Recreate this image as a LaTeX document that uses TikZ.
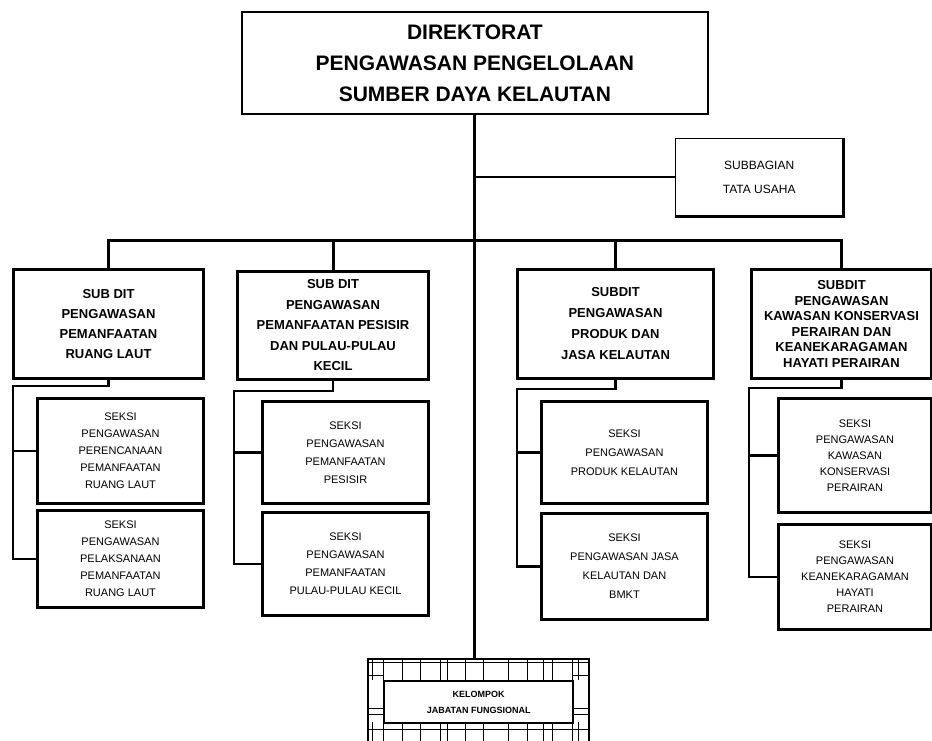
\documentclass[tikz,border=0pt]{standalone}
\usepackage{fontspec}
\setmainfont{Liberation Sans}
\begin{document}
\begin{tikzpicture}[x=1pt,y=-1pt,
  box/.style={draw, anchor=north west, align=center, inner sep=0pt},
  topbox/.style={box, line width=1.8pt, font=\fontsize{21}{31}\selectfont\bfseries},
  tubox/.style={box, line width=1.4pt, font=\fontsize{12}{24}\selectfont},
  sdbox/.style={box, line width=3pt, font=\fontsize{13}{#1}\selectfont\bfseries},
  skbox/.style={box, line width=3pt, font=\fontsize{11}{#1}\selectfont},
  conn/.style={line width=3pt},
  thinconn/.style={line width=2.2pt},
  gridline/.style={line width=0.9pt}
]
\useasboundingbox[fill=white] (0,0) rectangle (932,740);

% top
\node[topbox, minimum width=466pt, minimum height=102pt] (dir) at (241,11)
  {DIREKTORAT\\PENGAWASAN PENGELOLAAN\\SUMBER DAYA KELAUTAN};
\node[tubox, minimum width=167pt, minimum height=77pt] (tu) at (675,138)
  {SUBBAGIAN\\TATA USAHA};
\draw[line width=3pt] (tu.south west) -- (tu.south east) -- (tu.north east);

% subdits
\node[sdbox=20, minimum width=190pt, minimum height=109pt] (sd1) at (12,268)
  {SUB DIT\\PENGAWASAN\\PEMANFAATAN\\RUANG LAUT};
\node[sdbox=20.5, minimum width=191pt, minimum height=108pt] (sd2) at (236,270)
  {SUB DIT\\PENGAWASAN\\PEMANFAATAN PESISIR\\DAN PULAU-PULAU\\KECIL};
\node[sdbox=21, minimum width=196pt, minimum height=109pt] (sd3) at (516,268)
  {SUBDIT\\PENGAWASAN\\PRODUK DAN\\JASA KELAUTAN};
\node[sdbox=15.5, minimum width=180pt, minimum height=109pt] (sd4) at (750,268)
  {SUBDIT\\PENGAWASAN\\KAWASAN KONSERVASI\\PERAIRAN DAN\\KEANEKARAGAMAN\\HAYATI PERAIRAN};

% seksi
\node[skbox=17, minimum width=166pt, minimum height=105pt] (s11) at (36,397)
  {SEKSI\\PENGAWASAN\\PERENCANAAN\\PEMANFAATAN\\RUANG LAUT};
\node[skbox=17, minimum width=166pt, minimum height=97pt] (s12) at (36,509)
  {SEKSI\\PENGAWASAN\\PELAKSANAAN\\PEMANFAATAN\\RUANG LAUT};
\node[skbox=18, minimum width=166pt, minimum height=102pt] (s21) at (261,400)
  {SEKSI\\PENGAWASAN\\PEMANFAATAN\\PESISIR};
\node[skbox=18, minimum width=166pt, minimum height=103pt] (s22) at (261,511)
  {SEKSI\\PENGAWASAN\\PEMANFAATAN\\PULAU-PULAU KECIL};
\node[skbox=19, minimum width=166pt, minimum height=102pt] (s31) at (540,400)
  {SEKSI\\PENGAWASAN\\PRODUK KELAUTAN};
\node[skbox=19, minimum width=166pt, minimum height=106pt] (s32) at (540,512)
  {SEKSI\\PENGAWASAN JASA\\KELAUTAN DAN\\BMKT};
\node[skbox=16, minimum width=153pt, minimum height=114pt] (s41) at (777,397)
  {SEKSI\\PENGAWASAN\\KAWASAN\\KONSERVASI\\PERAIRAN};
\node[skbox=16, minimum width=153pt, minimum height=105pt] (s42) at (777,523)
  {SEKSI\\PENGAWASAN\\KEANEKARAGAMAN\\HAYATI\\PERAIRAN};

% kelompok jabatan fungsional
\node[draw, line width=2.4pt, anchor=north west, minimum width=221pt, minimum height=92pt, inner sep=0pt] (kel) at (367,658) {};
\foreach \x in {372,383,402,420,440,447,465,483,508,527,543,552,572,578}{
  \draw[gridline] (\x,658) -- (\x,680);
  \draw[gridline] (\x,722) -- (\x,750);
}
\foreach \y in {662,675,708,714,729}{
  \draw[gridline] (367,\y) -- (383,\y);
  \draw[gridline] (572,\y) -- (588,\y);
}
\draw[gridline] (367,662) -- (588,662);
\draw[gridline] (367,729) -- (588,729);
\node[draw, fill=white, line width=2.4pt, anchor=north west, minimum width=189pt, minimum height=42pt,
  inner sep=0pt, align=center, font=\fontsize{9}{16}\selectfont\bfseries] (kelin) at (383,680)
  {KELOMPOK\\JABATAN FUNGSIONAL};

% connectors
\coordinate (bus) at (474,240);
\draw[conn] (dir.south) -- (dir.south |- kel.north);
\draw[thinconn] (dir.south |- tu.west) -- (tu.west);
\draw[conn] (sd1.north) |- (bus) -| (sd4.north);
\draw[conn] (sd2.north) -- (sd2.north |- bus);
\draw[conn] (sd3.north) -- (sd3.north |- bus);

\coordinate (b1) at (13,386);
\coordinate (b2) at (234,391);
\coordinate (b3) at (517,389);
\coordinate (b4) at (749,388);
\draw[thinconn] (sd1.south) |- (b1) |- (s12.west);
\draw[thinconn] (b1 |- s11.west) -- (s11.west);
\draw[thinconn] (sd2.south) |- (b2) |- (s22.west);
\draw[thinconn] (b2 |- s21.west) -- (s21.west);
\draw[thinconn] (sd3.south) |- (b3) |- (s32.west);
\draw[thinconn] (b3 |- s31.west) -- (s31.west);
\draw[thinconn] (sd4.south) |- (b4) |- (s42.west);
\draw[thinconn] (b4 |- s41.west) -- (s41.west);
\end{tikzpicture}
\end{document}
